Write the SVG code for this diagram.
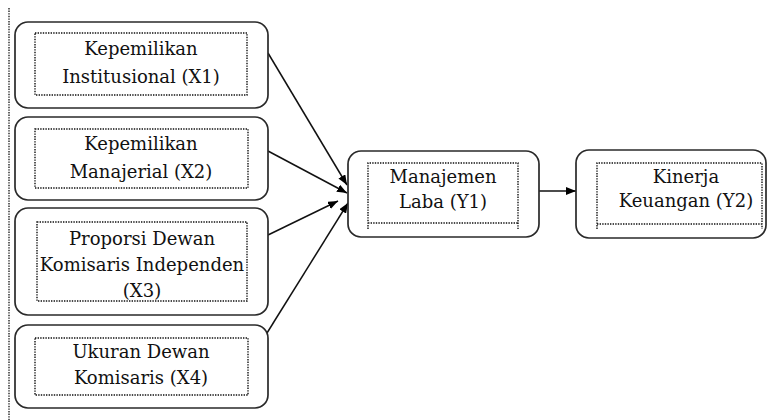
<svg xmlns="http://www.w3.org/2000/svg" width="772" height="420" viewBox="0 0 772 420">
<defs>
<marker id="ah" viewBox="0 0 10 8" refX="10" refY="4" markerWidth="10" markerHeight="8" markerUnits="userSpaceOnUse" orient="auto">
<path d="M0,0 L10,4 L0,8 z" fill="#000"/>
</marker>
</defs>
<style>
.outer{fill:#fff;stroke:#2a2a2a;stroke-width:1.7}
.inner{fill:none;stroke:#111;stroke-width:1.4;stroke-dasharray:1.4,1.2}
.c{stroke:#111;stroke-width:1.5;fill:none;marker-end:url(#ah)}
</style>
<rect width="772" height="420" fill="#fff"/>
<line x1="9" y1="8" x2="9" y2="420" stroke="#222" stroke-width="1.4" stroke-dasharray="1.4,1.2"/>
<g id="connectors">
<line class="c" x1="268" y1="53" x2="347" y2="185"/>
<line class="c" x1="268" y1="151" x2="347" y2="193"/>
<line class="c" x1="268" y1="235" x2="338" y2="201"/>
<line class="c" x1="267" y1="333" x2="348" y2="203"/>
<line class="c" x1="539" y1="191" x2="576" y2="191"/>
</g>
<g font-family="DejaVu Serif, Liberation Serif, serif" font-size="18" fill="#111" text-anchor="middle">
<g id="x1">
<rect class="outer" x="15" y="22" width="253" height="86" rx="13"/>
<rect class="inner" x="35" y="33" width="212" height="62"/>
<text x="141" y="55">Kepemilikan</text>
<text x="141" y="83">Institusional (X1)</text>
</g>
<g id="x2">
<rect class="outer" x="15" y="117" width="253" height="83" rx="13"/>
<rect class="inner" x="35" y="129" width="213" height="59"/>
<text x="141" y="150">Kepemilikan</text>
<text x="141" y="178">Manajerial (X2)</text>
</g>
<g id="x3">
<rect class="outer" x="15" y="208" width="253" height="107" rx="13"/>
<rect class="inner" x="37" y="222" width="210" height="79"/>
<text x="142" y="245">Proporsi Dewan</text>
<text x="142" y="271">Komisaris Independen</text>
<text x="142" y="297">(X3)</text>
</g>
<g id="x4">
<rect class="outer" x="15" y="325" width="253" height="83" rx="13"/>
<rect class="inner" x="35" y="338" width="213" height="57"/>
<text x="141" y="358">Ukuran Dewan</text>
<text x="141" y="384">Komisaris (X4)</text>
</g>
<g id="y1">
<rect class="outer" x="348" y="151" width="191" height="86" rx="13"/>
<path class="inner" d="M368,229 V163 H518 V229 M368,223 H518"/>
<text x="443" y="183">Manajemen</text>
<text x="443" y="208">Laba (Y1)</text>
</g>
<g id="y2">
<rect class="outer" x="576" y="150" width="190" height="88" rx="13"/>
<path class="inner" d="M597,229 V163 H762 V229 M597,224 H762"/>
<text x="686" y="183">Kinerja</text>
<text x="686" y="207">Keuangan (Y2)</text>
</g>
</g>
</svg>
